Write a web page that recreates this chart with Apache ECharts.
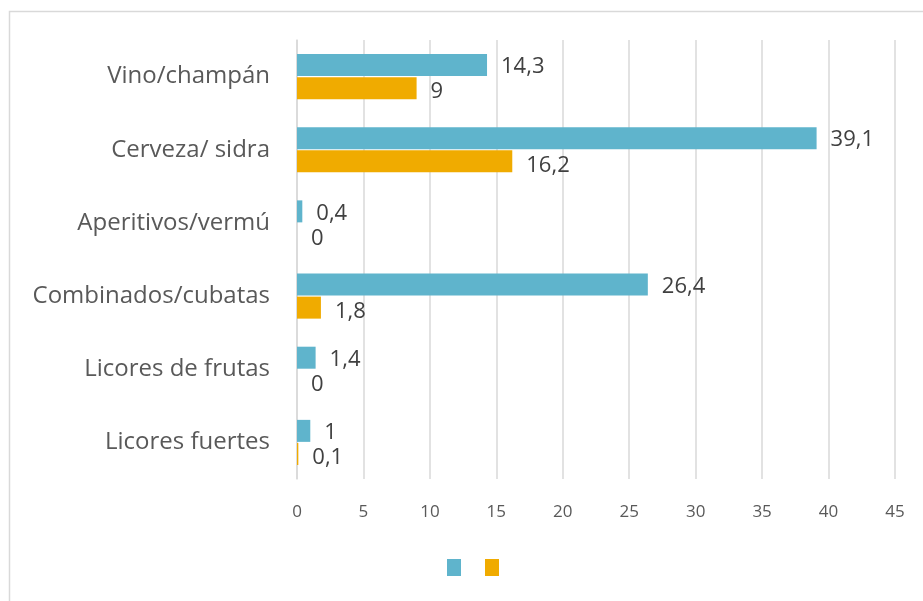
<!DOCTYPE html>
<html>
<head>
<meta charset="utf-8">
<script src="https://cdn.jsdelivr.net/npm/echarts@6/dist/echarts.min.js"></script>
<style>
  html, body { margin: 0; padding: 0; background: #fff; }
  #chart { width: 923px; height: 601px; }
</style>
</head>
<body>
<div id="chart"></div>
<script>
var categories = ['Vino/champán', 'Cerveza/ sidra', 'Aperitivos/vermú', 'Combinados/cubatas', 'Licores de frutas', 'Licores fuertes'];
var serieAzul = [14.3, 39.1, 0.4, 26.4, 1.4, 1];
var serieNaranja = [9, 16.2, 0, 1.8, 0, 0.1];
var xTicks = [0, 5, 10, 15, 20, 25, 30, 35, 40, 45];

var myChart = echarts.init(document.getElementById('chart'));

function coma(p) {
  return String(p.value).replace('.', ',');
}

var fuente = '"Open Sans", "Noto Sans", sans-serif';

var option = {
  animation: false,
  textStyle: { fontFamily: fuente },
  graphic: [{
    type: 'rect',
    shape: { x: 9.5, y: 11.5, width: 925, height: 600 },
    style: { fill: 'none', stroke: '#d9d9d9', lineWidth: 1.5 }
  }],
  legend: {
    left: 447,
    top: 559,
    padding: 0,
    itemWidth: 14,
    itemHeight: 17,
    itemGap: 24,
    icon: 'rect',
    data: ['azul', 'naranja'],
    formatter: function () { return ''; }
  },
  grid: { left: 297, right: 28, top: 40, bottom: 122 },
  xAxis: {
    type: 'value',
    min: xTicks[0],
    max: xTicks[xTicks.length - 1],
    interval: 5,
    axisLine: { show: false },
    axisTick: { show: false },
    axisLabel: { color: '#595959', fontSize: 17, margin: 25, fontFamily: fuente },
    splitLine: { lineStyle: { color: '#d9d9d9', width: 1.5 } }
  },
  yAxis: {
    type: 'category',
    inverse: true,
    data: categories,
    axisLine: { lineStyle: { color: '#d9d9d9', width: 1.5 } },
    axisTick: { show: false },
    axisLabel: { color: '#595959', fontSize: 24, margin: 27, fontFamily: fuente }
  },
  series: [{
    name: 'azul',
    type: 'bar',
    data: serieAzul,
    barWidth: 22,
    barGap: '5%',
    itemStyle: { color: '#5fb4cc' },
    label: { show: true, position: 'right', distance: 14, color: '#404040', fontSize: 22, formatter: coma, offset: [0, 2] }
  }, {
    name: 'naranja',
    type: 'bar',
    data: serieNaranja,
    barWidth: 22,
    itemStyle: { color: '#f0ab00' },
    label: { show: true, position: 'right', distance: 14, color: '#404040', fontSize: 22, formatter: coma, offset: [0, 4] }
  }]
};

myChart.setOption(option);
</script>
</body>
</html>
